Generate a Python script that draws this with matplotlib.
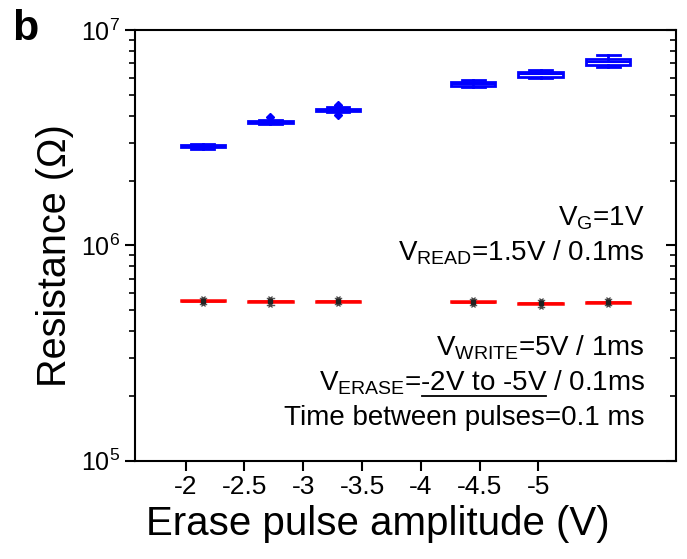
import matplotlib
matplotlib.use("Agg")
import matplotlib.pyplot as plt
from matplotlib import font_manager
from matplotlib.lines import Line2D
from matplotlib.ticker import LogLocator, NullFormatter, FixedLocator

# ---------------- data ----------------
amplitudes = [-2, -2.5, -3, -4, -4.5, -5]
tick_labels = ["-2", "-2.5", "-3", "-3.5", "-4", "-4.5", "-5"]

# high-resistance state (blue boxes)
hrs_median = [2.89e6, 3.75e6, 4.27e6, 5.62e6, 6.22e6, 7.11e6]
hrs_q1 = [2.85e6, 3.71e6, 4.22e6, 5.50e6, 6.07e6, 6.87e6]
hrs_q3 = [2.93e6, 3.79e6, 4.32e6, 5.72e6, 6.38e6, 7.36e6]
hrs_lo = [2.79e6, 3.67e6, 4.15e6, 5.45e6, 6.00e6, 6.77e6]
hrs_hi = [2.97e6, 3.84e6, 4.39e6, 5.85e6, 6.53e6, 7.66e6]
hrs_fliers = [[], [3.93e6], [4.48e6, 4.05e6], [], [], []]

# low-resistance state (red boxes)
lrs_median = [5.52e5, 5.50e5, 5.51e5, 5.46e5, 5.38e5, 5.45e5]
lrs_q1 = [5.49e5, 5.47e5, 5.48e5, 5.43e5, 5.35e5, 5.42e5]
lrs_q3 = [5.55e5, 5.53e5, 5.54e5, 5.49e5, 5.41e5, 5.48e5]
lrs_lo = [5.33e5, 5.31e5, 5.32e5, 5.27e5, 5.19e5, 5.26e5]
lrs_hi = [5.72e5, 5.70e5, 5.71e5, 5.66e5, 5.58e5, 5.65e5]

# ---------------- fonts ----------------
def has_font(name):
    try:
        font_manager.findfont(name, fallback_to_default=False)
        return True
    except Exception:
        return False

BASE = "Liberation Sans" if has_font("Liberation Sans") else "DejaVu Sans"

plt.rcParams["font.family"] = [BASE, "DejaVu Sans"]
plt.rcParams["mathtext.fontset"] = "custom"
plt.rcParams["mathtext.rm"] = BASE
plt.rcParams["mathtext.it"] = BASE + ":italic"
plt.rcParams["mathtext.bf"] = BASE + ":bold"

# ---------------- figure ----------------
fig = plt.figure(figsize=(6.87, 5.59), dpi=100)
ax = fig.add_axes([0.1971, 0.1758, 0.9835 - 0.1971, 0.9463 - 0.1758])

# positions from amplitude (category slots, -3.5 left empty)
positions = [1 + (-a - 2) / 0.5 for a in amplitudes]

hrs_stats = []
for i in range(len(amplitudes)):
    hrs_stats.append(dict(med=hrs_median[i], q1=hrs_q1[i], q3=hrs_q3[i],
                          whislo=hrs_lo[i], whishi=hrs_hi[i],
                          fliers=hrs_fliers[i], mean=hrs_median[i]))
lrs_stats = []
for i in range(len(amplitudes)):
    lrs_stats.append(dict(med=lrs_median[i], q1=lrs_q1[i], q3=lrs_q3[i],
                          whislo=lrs_lo[i], whishi=lrs_hi[i],
                          fliers=[], mean=lrs_median[i]))

blue = "#0000ff"
ax.bxp(hrs_stats, positions=positions, widths=0.66, capwidths=0.34,
       patch_artist=True, showfliers=True,
       boxprops=dict(facecolor="white", edgecolor=blue, linewidth=2),
       medianprops=dict(color=blue, linewidth=1.5),
       whiskerprops=dict(color=blue, linewidth=2),
       capprops=dict(color=blue, linewidth=2),
       flierprops=dict(marker="D", markerfacecolor=blue, markeredgecolor=blue,
                       markersize=4.5))

ax.bxp(lrs_stats, positions=positions, widths=0.66, capwidths=0.09,
       patch_artist=True, showfliers=False,
       boxprops=dict(facecolor="#ff3030", edgecolor="#ff0000", linewidth=1.8),
       medianprops=dict(color="#ff0000", linewidth=1.8),
       whiskerprops=dict(color="#555555", linewidth=1),
       capprops=dict(color="#555555", linewidth=1))
ax.plot(positions, lrs_lo, linestyle="none", marker="x", color="#444444",
        markersize=3.5, markeredgewidth=0.9, zorder=5)
ax.plot(positions, lrs_hi, linestyle="none", marker="x", color="#444444",
        markersize=3.5, markeredgewidth=0.9, zorder=5)
ax.plot(positions, lrs_median, linestyle="none", marker="s", color="#222222",
        markersize=2.5, zorder=6)

# ---------------- axes ----------------
ax.set_yscale("log")
ax.set_ylim(1e5, 1e7)
ax.set_xlim(0, 8)

tick_pos = [0.744 + 0.8705 * k for k in range(len(tick_labels))]
ax.xaxis.set_major_locator(FixedLocator(tick_pos))
ax.set_xticklabels(tick_labels)
ax.xaxis.set_minor_locator(FixedLocator([]))

ax.yaxis.set_major_locator(LogLocator(base=10, numticks=10))
ax.yaxis.set_minor_locator(LogLocator(base=10, subs=range(2, 10), numticks=20))
ax.yaxis.set_minor_formatter(NullFormatter())

for s in ax.spines.values():
    s.set_linewidth(1.5)

ax.tick_params(axis="x", which="major", direction="out", length=7, width=1.5,
               labelsize=19, pad=3, top=False)
ax.tick_params(axis="y", which="major", direction="out", length=7, width=1.5,
               labelsize=18, pad=4)
ax.tick_params(axis="y", which="minor", direction="out", length=4, width=1.2)
ax.tick_params(axis="y", which="both", right=False)

# right-hand ticks pointing inward
ax2 = ax.twinx()
ax2.set_yscale("log")
ax2.set_ylim(ax.get_ylim())
ax2.yaxis.set_major_locator(LogLocator(base=10, numticks=10))
ax2.yaxis.set_minor_locator(LogLocator(base=10, subs=range(2, 10), numticks=20))
ax2.tick_params(axis="y", which="major", direction="in", length=7, width=1.5,
                labelright=False)
ax2.tick_params(axis="y", which="minor", direction="in", length=4, width=1.2,
                labelright=False)
for s in ax2.spines.values():
    s.set_visible(False)

ax.set_xlabel("Erase pulse amplitude (V)", fontsize=29)
ax.xaxis.set_label_coords(0.449, -0.103)
ax.set_ylabel("Resistance (\u03a9)", fontsize=28.5)
ax.yaxis.set_label_coords(-0.114, 0.477)

fig.text(0.017, 0.928, "b", fontsize=31, fontweight="bold", ha="left",
         va="baseline")

# ---------------- annotations ----------------
afam = [BASE]
asize = 20
x0 = 0.943
lines = [
    (0.547, r"V$_{\mathrm{G}}$=1V"),
    (0.464, r"V$_{\mathrm{READ}}$=1.5V / 0.1ms"),
    (0.245, r"V$_{\mathrm{WRITE}}$=5V / 1ms"),
    (0.164, r"V$_{\mathrm{ERASE}}$=-2V to -5V / 0.1ms"),
    (0.083, "Time between pulses=0.1 ms"),
]
for yy, s in lines:
    ax.text(x0, yy, s, transform=ax.transAxes, ha="right", va="baseline",
            fontsize=asize, family=afam)

# underline "-2V to -5V"
fig.canvas.draw()
r = fig.canvas.get_renderer()
ty = 0.164
tmp1 = ax.text(x0, ty, "-2V to -5V / 0.1ms", transform=ax.transAxes, ha="right",
               va="baseline", fontsize=asize, family=afam, alpha=0)
tmp2 = ax.text(x0, ty, "-2V to -5V", transform=ax.transAxes, ha="left",
               va="baseline", fontsize=asize, family=afam, alpha=0)
b1 = tmp1.get_window_extent(r)
b2 = tmp2.get_window_extent(r)
start = b1.x0 + 1
end = b1.x0 + b2.width
base_disp = ax.transAxes.transform((x0, ty))[1]
uy = base_disp - 6
inv = fig.transFigure.inverted()
p0 = inv.transform((start, uy))
p1 = inv.transform((end, uy))
fig.add_artist(Line2D([p0[0], p1[0]], [p0[1], p1[1]], color="black", linewidth=1.3,
                      transform=fig.transFigure))
tmp1.remove()
tmp2.remove()

fig.savefig("out.png", dpi=100)
